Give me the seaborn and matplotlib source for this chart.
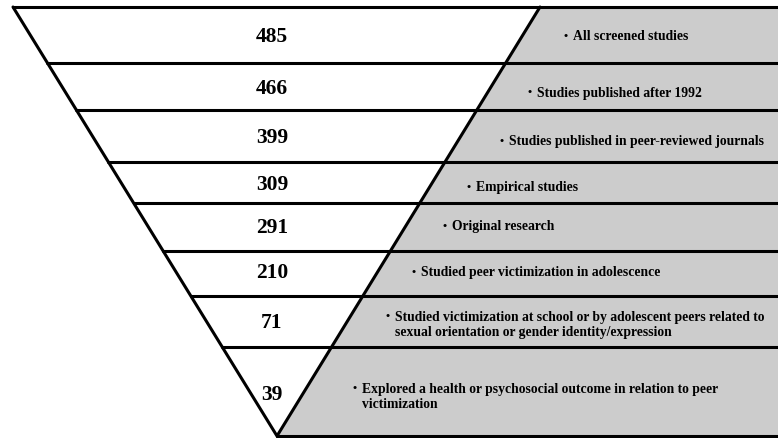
import matplotlib
matplotlib.use("Agg")
import matplotlib.pyplot as plt
import pandas as pd
import seaborn as sns

sns.set_theme(style="white")
plt.rcParams["font.family"] = ["Liberation Serif", "DejaVu Serif"]
plt.rcParams["text.color"] = "black"

counts = [485, 466, 399, 309, 291, 210, 71, 39]
labels = [
    "All screened studies",
    "Studies published after 1992",
    "Studies published in peer-reviewed journals",
    "Empirical studies",
    "Original research",
    "Studied peer victimization in adolescence",
    "Studied victimization at school or by adolescent peers related to\nsexual orientation or gender identity/expression",
    "Explored a health or psychosocial outcome in relation to peer\nvictimization",
]

# layout (pixel coordinates of the original figure)
W, H = 778, 439
top, apex_y = 8, 437
left_top, right_top, apex_x = 13, 540, 277
edges = [8, 64, 111, 163, 204, 252, 297, 348, 437]
num_y = [37, 89, 138, 185, 228, 273, 323, 395]
lab_x = [564, 528, 500, 467, 443, 412, 386, 353]
lab_y = [37, 93, 142, 188, 227, 273, 325, 397]
gray = "#cccccc"
lw = 2.2


def left_x(y):
    return left_top + (y - top) / (apex_y - top) * (apex_x - left_top)


fig = plt.figure(figsize=(W / 100, H / 100), dpi=100)
ax = fig.add_axes([0, 0, 1, 1])

ax.fill([right_top, W, W, apex_x], [top, top, apex_y, apex_y], color=gray, lw=0, zorder=1)

seg = pd.DataFrame({
    "x": [v for y in edges for v in (left_x(y), W)],
    "y": [y for y in edges for _ in (0, 1)],
    "band": [i for i in range(len(edges)) for _ in (0, 1)],
})
sns.lineplot(data=seg, x="x", y="y", units="band", estimator=None, sort=False,
             color="black", lw=lw, ax=ax, zorder=3)
ax.plot([left_top, apex_x, right_top], [top, apex_y, top], color="black", lw=lw,
        solid_joinstyle="miter", zorder=3)
ax.set_xlim(0, W)
ax.set_ylim(H, 0)
ax.axis("off")

for i, (n, lab) in enumerate(zip(counts, labels)):
    ax.text(272, num_y[i], str(n), ha="center", va="center", fontsize=15.5,
            fontweight="bold", color="black", zorder=4)
    nl = lab.count("\n") + 1
    ax.text(lab_x[i] + 9, lab_y[i], lab, ha="left", va="center", fontsize=9.8,
            fontweight="bold", color="black", linespacing=1.2, zorder=4)
    ax.text(lab_x[i], lab_y[i] - (nl - 1) * 7.5, "\u2022", ha="left", va="center",
            fontsize=8.5, fontweight="bold", color="black", zorder=4)

fig.savefig("out.png", dpi=100)
